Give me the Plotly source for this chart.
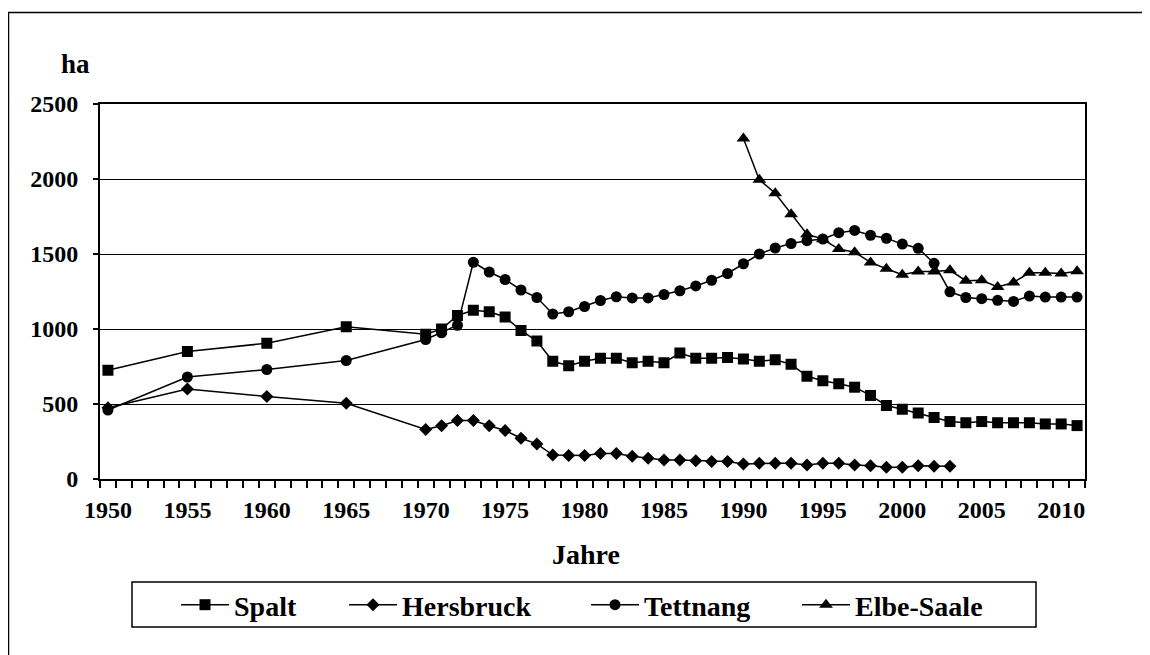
import plotly.graph_objects as go

# ---------------- data ----------------
years_spalt = [1950, 1955, 1960, 1965] + list(range(1970, 2012))
spalt = [725, 850, 905, 1015,
         965, 1000, 1090, 1125, 1115, 1080, 990, 920, 785, 755,
         785, 805, 805, 775, 785, 775, 840, 805, 805, 810,
         800, 785, 795, 765, 685, 655, 635, 612, 557, 490,
         465, 440, 410, 383, 375, 383, 375, 375, 375, 367,
         367, 356]

years_hersbruck = [1950, 1955, 1960, 1965] + list(range(1970, 2004))
hersbruck = [475, 600, 550, 505,
             330, 355, 390, 390, 355, 323, 272, 234, 160, 156,
             156, 170, 170, 151, 138, 127, 127, 122, 116, 116,
             100, 105, 105, 105, 93, 105, 105, 93, 89, 78,
             78, 89, 85, 85]

years_tettnang = [1950, 1955, 1960, 1965] + list(range(1970, 2012))
tettnang = [460, 680, 730, 790,
            930, 975, 1025, 1445, 1380, 1330, 1260, 1210, 1100, 1115,
            1150, 1190, 1215, 1207, 1207, 1230, 1255, 1287, 1325, 1370,
            1435, 1500, 1540, 1570, 1589, 1600, 1642, 1657, 1625, 1605,
            1566, 1538, 1438, 1248, 1210, 1202, 1191, 1184, 1220, 1213,
            1213, 1213]

years_elbe = list(range(1990, 2012))
elbe_saale = [2270, 1995, 1905, 1765, 1632, 1598, 1533, 1512, 1444, 1402,
              1362, 1384, 1384, 1391, 1322, 1325, 1280, 1310, 1375, 1375,
              1370, 1385]

x_tick_years = list(range(1950, 2011, 5))
y_ticks = [0, 500, 1000, 1500, 2000, 2500]
boundaries = [y + 0.5 for y in range(1949, 2012)]

FONT = "Liberation Serif"

series = [
    ("Spalt", years_spalt, spalt, "square", 11, 105),
    ("Hersbruck", years_hersbruck, hersbruck, "diamond", 10, 179),
    ("Tettnang", years_tettnang, tettnang, "circle", 11, 148),
    ("Elbe-Saale", years_elbe, elbe_saale, "triangle-up", 12, None),
]

fig = go.Figure()
for name, xs, ys, sym, sz, lw in series:
    kw = {}
    if lw is not None:
        kw["legendwidth"] = lw
    fig.add_trace(go.Scatter(
        x=xs, y=ys, name=name, mode="lines+markers",
        line=dict(color="black", width=1.5),
        marker=dict(symbol=sym, size=sz, color="black"),
        **kw,
    ))

# page offset (browser body margin) and plot area in reference pixels
OFF = 8
FW, FH = 1150 - OFF, 655 - OFF
L, R, T, B = 100 - OFF, 1085 - OFF, 104 - OFF, 479 - OFF
W, H = R - L, B - T

def px(X):
    return (X - OFF - L) / W

def py(Y):
    return (B - (Y - OFF)) / H

shapes = [
    # outer chart frame (left/top visible)
    dict(type="rect", xref="paper", yref="paper",
         x0=px(8.5), x1=px(1200), y0=py(12.5), y1=py(720),
         line=dict(color="black", width=1.5), fillcolor="rgba(0,0,0,0)", layer="below"),
    # legend box
    dict(type="rect", xref="paper", yref="paper",
         x0=px(132), x1=px(1036), y0=py(582), y1=py(627),
         line=dict(color="black", width=1.5), fillcolor="rgba(0,0,0,0)"),
]

fig.update_layout(
    width=FW, height=FH,
    margin=dict(l=L, r=FW - R, t=T, b=FH - B),
    paper_bgcolor="white", plot_bgcolor="white",
    font=dict(family=FONT, color="black", size=24),
    showlegend=True,
    legend=dict(
        orientation="h", x=px(176), xanchor="left",
        y=py(605), yanchor="middle",
        font=dict(family=FONT, size=28, color="black", weight="bold"),
        bgcolor="rgba(0,0,0,0)", borderwidth=0,
        itemwidth=48,
    ),
    shapes=shapes,
    annotations=[
        dict(text="ha", xref="paper", yref="paper", x=px(75), y=py(64),
             xanchor="center", yanchor="middle", showarrow=False,
             font=dict(family=FONT, size=27, color="black", weight="bold")),
        dict(text="Jahre", xref="paper", yref="paper", x=px(586), y=py(554),
             xanchor="center", yanchor="middle", showarrow=False,
             font=dict(family=FONT, size=28, color="black", weight="bold")),
    ],
)

fig.update_xaxes(
    range=[1949.5, 2011.5],
    tickmode="array", tickvals=x_tick_years,
    ticktext=[str(y) for y in x_tick_years],
    ticks="", showgrid=False, zeroline=False,
    showline=True, linecolor="black", linewidth=2, mirror=True,
    tickfont=dict(family=FONT, size=24, color="black", weight="bold"),
    ticklabelstandoff=8,
    minor=dict(tickmode="array", tickvals=boundaries, ticks="outside",
               ticklen=7, tickwidth=1.5, tickcolor="black", showgrid=False),
)

fig.update_yaxes(
    range=[0, 2500],
    tickmode="array", tickvals=y_ticks,
    ticks="outside", ticklen=5, tickwidth=1.5, tickcolor="black",
    showgrid=True, gridcolor="black", gridwidth=1,
    zeroline=False,
    showline=True, linecolor="black", linewidth=2, mirror=True,
    tickfont=dict(family=FONT, size=24, color="black", weight="bold"),
    ticklabelstandoff=10,
)

fig.write_html("out.html")
